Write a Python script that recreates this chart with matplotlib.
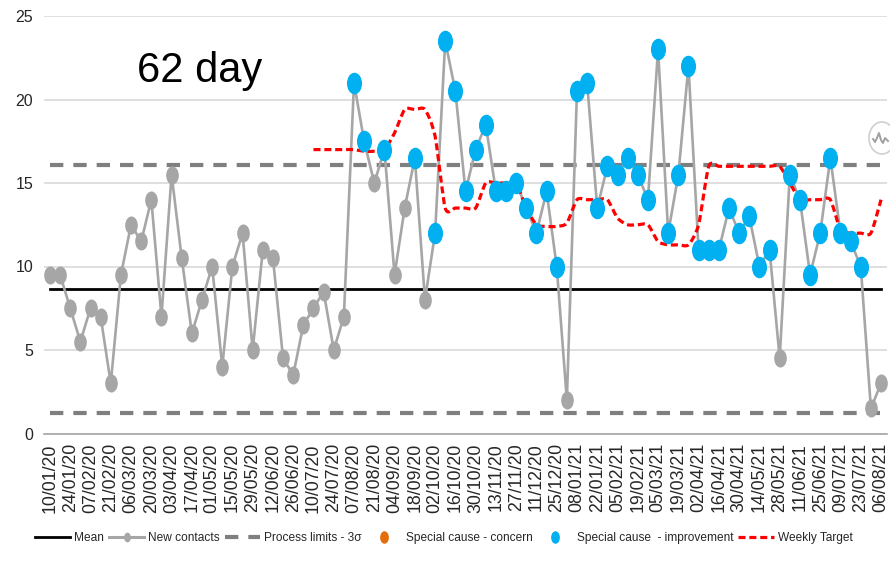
import matplotlib
matplotlib.use("Agg")
import matplotlib.pyplot as plt
from matplotlib.lines import Line2D
from matplotlib.markers import MarkerStyle
from matplotlib.patches import Ellipse, PathPatch
from matplotlib.path import Path
from matplotlib.transforms import Affine2D, IdentityTransform

plt.rcParams['font.family'] = ['Liberation Sans', 'DejaVu Sans']

# weekly dates, only every second one is labelled
tick_labels = ['10/01/20', '24/01/20', '07/02/20', '21/02/20', '06/03/20', '20/03/20',
               '03/04/20', '17/04/20', '01/05/20', '15/05/20', '29/05/20', '12/06/20',
               '26/06/20', '10/07/20', '24/07/20', '07/08/20', '21/08/20', '04/09/20',
               '18/09/20', '02/10/20', '16/10/20', '30/10/20', '13/11/20', '27/11/20',
               '11/12/20', '25/12/20', '08/01/21', '22/01/21', '05/02/21', '19/02/21',
               '05/03/21', '19/03/21', '02/04/21', '16/04/21', '30/04/21', '14/05/21',
               '28/05/21', '11/06/21', '25/06/21', '09/07/21', '23/07/21', '06/08/21']

new_contacts = [9.5, 9.5, 7.5, 5.5, 7.5, 7, 3, 9.5, 12.5, 11.5, 14, 7, 15.5, 10.5, 6, 8,
                10, 4, 10, 12, 5, 11, 10.5, 4.5, 3.5, 6.5, 7.5, 8.5, 5, 7, 21, 17.5, 15,
                17, 9.5, 13.5, 16.5, 8, 12, 23.5, 20.5, 14.5, 17, 18.5, 14.5, 14.5, 15,
                13.5, 12, 14.5, 10, 2, 20.5, 21, 13.5, 16, 15.5, 16.5, 15.5, 14, 23, 12,
                15.5, 22, 11, 11, 11, 13.5, 12, 13, 10, 11, 4.5, 15.5, 14, 9.5, 12, 16.5,
                12, 11.5, 10, 1.5, 3]

# points flagged as special cause - improvement
improvement_idx = [30, 31, 33, 36, 38, 39, 40, 41, 42, 43, 44, 45, 46, 47, 48, 49, 50,
                   52, 53, 54, 55, 56, 57, 58, 59, 60, 61, 62, 63, 64, 65, 66, 67, 68,
                   69, 70, 71, 73, 74, 75, 76, 77, 78, 79, 80]
concern_idx = []

# target starts part way through the series
target_start = 26
weekly_target = [17, 17, 17, 17, 17, 16.9, 16.9, 17, 18, 19.4, 19.4, 19.4, 17.8, 13.5,
                 13.5, 13.5, 13.5, 15, 15, 15, 15, 13.5, 12.5, 12.4, 12.4, 12.6, 14, 14,
                 14, 14, 12.9, 12.5, 12.5, 12.5, 11.5, 11.3, 11.3, 11.3, 12.5, 16, 16, 16,
                 16, 16, 16, 16, 16, 15, 14, 14, 14, 14, 12.2, 12, 12, 12, 14]

mean_value = 8.66
upper_limit = 16.06
lower_limit = 1.25
y_ticks = [0, 5, 10, 15, 20, 25]

W, H = 890, 567
x = list(range(len(new_contacts)))


def smooth_path(xs, ys, k=0.12):
    # bezier through the points, same idea as a spreadsheet "smoothed line"
    verts = [(xs[0], ys[0])]
    codes = [Path.MOVETO]
    n = len(xs)
    for i in range(n - 1):
        prev_i = max(i - 1, 0)
        next_i = min(i + 2, n - 1)
        verts.append((xs[i] + k * (xs[i + 1] - xs[prev_i]), ys[i] + k * (ys[i + 1] - ys[prev_i])))
        verts.append((xs[i + 1] - k * (xs[next_i] - xs[i]), ys[i + 1] - k * (ys[next_i] - ys[i])))
        verts.append((xs[i + 1], ys[i + 1]))
        codes += [Path.CURVE4] * 3
    return Path(verts, codes)


fig = plt.figure(figsize=(W / 100, H / 100), dpi=100)
ax = fig.add_axes([44.4 / W, (H - 433.5) / H, 842.2 / W, 417.5 / H])
ax.set_xlim(-0.55, 82.55)
ax.set_ylim(0, 25)

for side in ax.spines:
    ax.spines[side].set_visible(False)

ax.set_yticks(y_ticks)
ax.yaxis.grid(True, color='#d9d9d9', lw=1.2, zorder=0)
ax.set_axisbelow(True)
ax.axhline(0, color='#a6a6a6', lw=1.2, clip_on=False)
ax.tick_params(axis='y', length=0, pad=8, labelsize=11.5, labelcolor='#262626')
ax.set_xticks(x[::2])
ax.set_xticklabels(tick_labels, rotation=90, fontsize=12.8, color='#262626')
ax.tick_params(axis='x', length=0, pad=7)

# the source picture is squashed sideways, so the markers are ellipses
squash = Affine2D().scale(0.7, 1)

mean_handle, = ax.plot(x, [mean_value] * len(x), color='black', lw=2.0, zorder=2)
ax.plot(x, [upper_limit] * len(x), color='#7f7f7f', lw=3, dashes=(3.2, 2.4), zorder=2)
ax.plot(x, [lower_limit] * len(x), color='#7f7f7f', lw=3, dashes=(3.2, 2.4), zorder=2)
ax.plot(x, new_contacts, color='#a6a6a6', lw=1.9,
        marker=MarkerStyle('o', transform=squash), ms=13, mec='none', zorder=3)
ax.add_patch(PathPatch(smooth_path(x[target_start:], weekly_target), fc='none', ec='#ff0000',
                       lw=2.3, ls=(0, (2.2, 1.2)), zorder=4))
ax.plot([x[i] for i in improvement_idx], [new_contacts[i] for i in improvement_idx],
        ls='none', marker=MarkerStyle('o', transform=squash), ms=15.5, color='#00b0f0',
        mec='none', zorder=5)
ax.plot([x[i] for i in concern_idx], [new_contacts[i] for i in concern_idx],
        ls='none', marker='o', color='#e46c0a', mec='none', zorder=5)

ax.text(137, H - 82, '62 day', transform=IdentityTransform(), fontsize=30, color='black')

# little sparkline badge clipped by the right edge
badge = Ellipse((882, H - 138), 26, 32, transform=IdentityTransform(), fc='white',
                ec='#d0d0d0', lw=1.2, zorder=6)
fig.add_artist(badge)
squiggle_x = [873, 875, 877, 879, 881, 883, 885, 888]
squiggle_y = [139, 142, 138, 133, 140, 143, 138, 141]
fig.add_artist(Line2D(squiggle_x, [H - v for v in squiggle_y], transform=IdentityTransform(),
                      color='#a0a0a0', lw=1.4, zorder=7))

handles = [mean_handle,
           Line2D([], [], color='#a6a6a6', lw=2.2, marker=MarkerStyle('o', transform=squash), ms=7,
                  mec='none'),
           Line2D([], [], color='#7f7f7f', lw=3, dashes=(3.2, 2.4)),
           Line2D([], [], ls='none', marker=MarkerStyle('o', transform=squash), ms=9,
                  color='#e46c0a', mec='none'),
           Line2D([], [], ls='none', marker=MarkerStyle('o', transform=squash), ms=9,
                  color='#00b0f0', mec='none'),
           Line2D([], [], color='#ff0000', lw=2.3, dashes=(2.2, 1.2))]
labels = ['Mean', 'New contacts', 'Process limits - 3σ', 'Special cause - concern',
          'Special cause  - improvement', 'Weekly Target']
fig.legend(handles, labels, ncol=6, loc='center left', bbox_to_anchor=(35 / W, (H - 538) / H),
           frameon=False, fontsize=8.6, handlelength=2.95, handletextpad=0.33,
           columnspacing=0.42, borderpad=0, borderaxespad=0, labelcolor='#262626')

fig.savefig('out.png', dpi=100)
